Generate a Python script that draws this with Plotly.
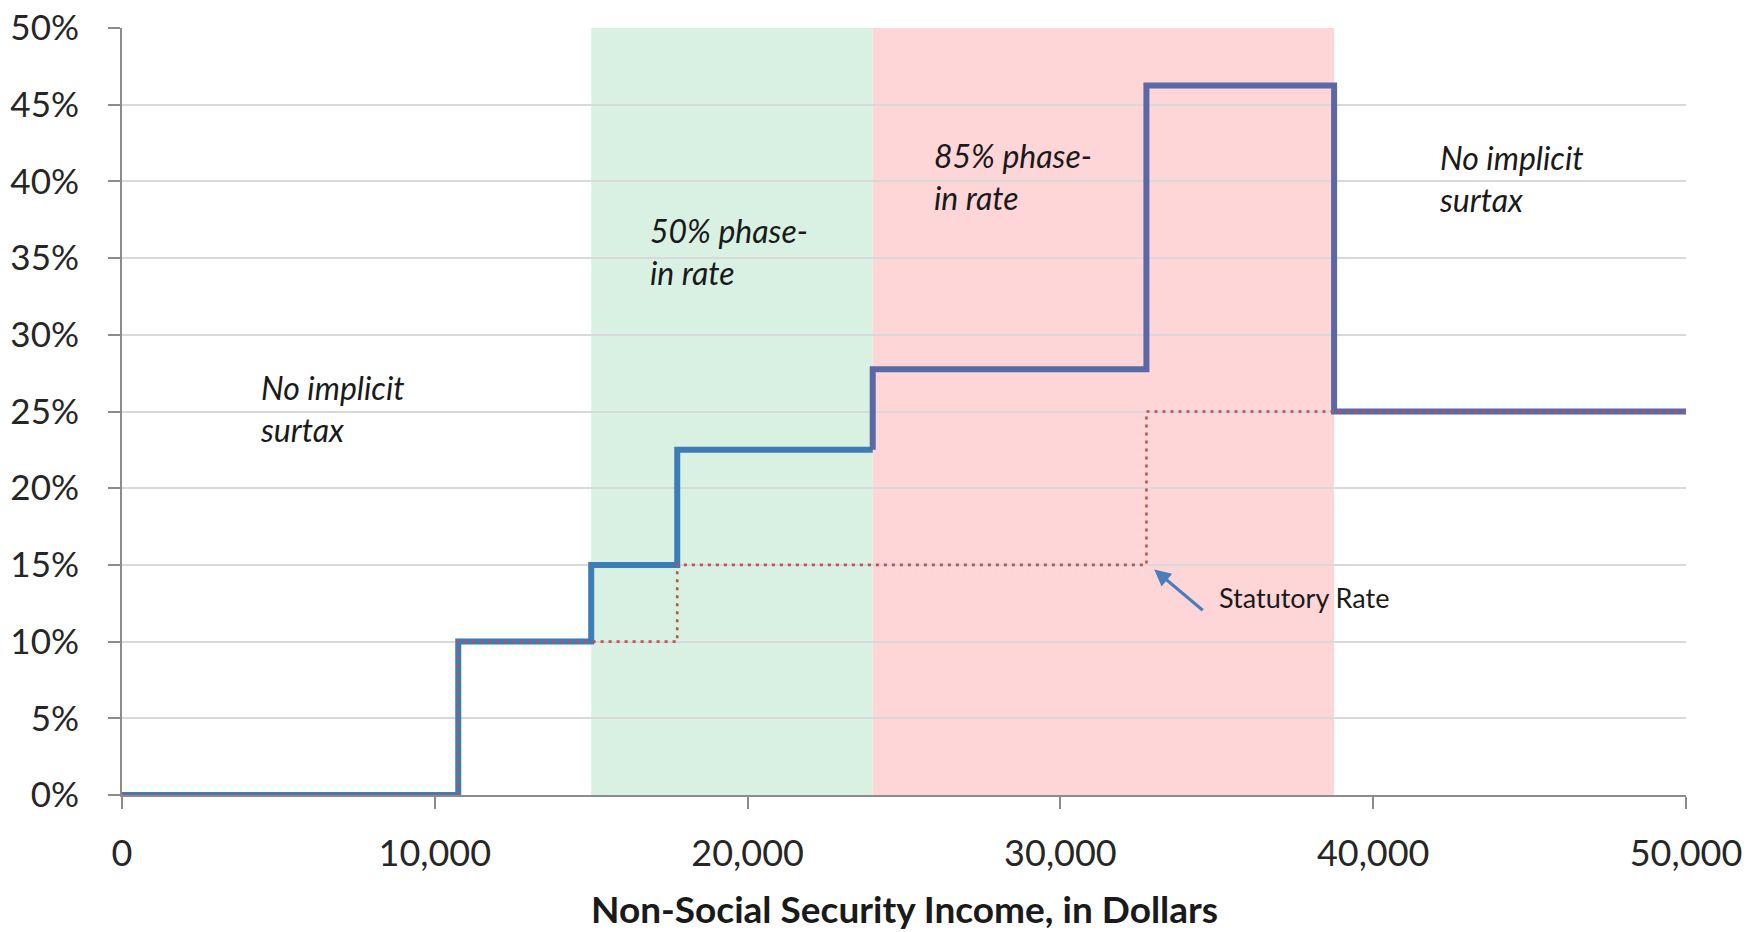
import plotly.graph_objects as go

# Effective marginal tax rate (with implicit surtax) by non-Social Security income
income_breaks = [0, 10750, 15000, 17750, 24000, 32750, 38750, 50000]
effective_rate = [0, 10, 15, 22.5, 27.75, 46.25, 25, 25]

# Statutory rate
statutory_breaks = [0, 10750, 17750, 32750, 50000]
statutory_rate = [0, 10, 15, 25, 25]

# Phase-in regions
phase50_range = [15000, 24000]
phase85_range = [24000, 38750]

x_ticks = [0, 10000, 20000, 30000, 40000, 50000]
y_ticks = [0, 5, 10, 15, 20, 25, 30, 35, 40, 45, 50]

FONT = "Lato"

fig = go.Figure()

# split effective rate line at the start of 85% phase-in region (colour change)
split = phase85_range[0]
ax = [x for x in income_breaks if x < split] + [split]
ay = [y for x, y in zip(income_breaks, effective_rate) if x < split]
ay = ay + [ay[-1]]
bx = [split] + [x for x in income_breaks if x >= split]
by = [ay[-1]] + [y for x, y in zip(income_breaks, effective_rate) if x >= split]

fig.add_trace(go.Scatter(x=ax, y=ay, mode="lines", line=dict(color="#3C7DB6", width=6, shape="hv"),
                         showlegend=False, hoverinfo="skip"))
fig.add_trace(go.Scatter(x=bx, y=by, mode="lines", line=dict(color="#5A69A6", width=6, shape="hv"),
                         showlegend=False, hoverinfo="skip"))
fig.add_trace(go.Scatter(x=statutory_breaks, y=statutory_rate, mode="lines",
                         line=dict(color="#C0504D", width=2.6, dash="3px,5px", shape="hv"),
                         showlegend=False, hoverinfo="skip"))

fig.add_shape(type="rect", xref="x", yref="y", x0=phase50_range[0], x1=phase50_range[1], y0=0, y1=50,
              fillcolor="#D9F1E2", line=dict(width=0), layer="below")
fig.add_shape(type="rect", xref="x", yref="y", x0=phase85_range[0], x1=phase85_range[1], y0=0, y1=50,
              fillcolor="#FFD6D7", line=dict(width=0), layer="below")

ann_font = dict(family=FONT, size=32, color="#1a1a1a")
for x, y, t in [(4350, 25.2, "No implicit<br>surtax"),
                (16800, 35.4, "50% phase-<br>in rate"),
                (25900, 40.3, "85% phase-<br>in rate"),
                (42050, 40.2, "No implicit<br>surtax")]:
    fig.add_annotation(x=x, y=y, xref="x", yref="y", text="<i>" + t + "</i>", showarrow=False,
                       xanchor="left", yanchor="middle", align="left", font=ann_font)

fig.add_annotation(x=33000, y=14.7, xref="x", yref="y", ax=50, ay=42, text="", showarrow=True,
                   arrowhead=2, arrowsize=1.1, arrowwidth=3, arrowcolor="#4A7EBB")
fig.add_annotation(x=35000, y=12.9, xref="x", yref="y", text="Statutory Rate", showarrow=False,
                   xanchor="left", yanchor="middle", font=dict(family=FONT, size=27, color="#1a1a1a"))

fig.add_annotation(x=0.5, y=-0.148, xref="paper", yref="paper", text="<b>Non-Social Security Income, in Dollars</b>",
                   showarrow=False, xanchor="center", yanchor="middle",
                   font=dict(family=FONT, size=37, color="#1a1a1a"))

fig.update_xaxes(range=[0, 50000], tickvals=x_ticks, ticktext=[f"{v:,}" for v in x_ticks],
                 showgrid=False, zeroline=False, showline=True, linecolor="#8C8C8C", linewidth=2,
                 ticks="outside", ticklen=12, tickwidth=2, tickcolor="#8C8C8C", automargin=False,
                 ticklabeloverflow="allow",
                 tickfont=dict(family=FONT, size=36, color="#262626"), ticklabelstandoff=14)
fig.update_yaxes(range=[0, 50], tickvals=y_ticks, ticktext=[f"{v}%" for v in y_ticks],
                 showgrid=True, gridcolor="#D9D9D9", gridwidth=1.5, zeroline=False,
                 showline=True, linecolor="#8C8C8C", linewidth=2, automargin=False,
                 ticklabeloverflow="allow",
                 ticks="outside", ticklen=12, tickwidth=2, tickcolor="#8C8C8C",
                 tickfont=dict(family=FONT, size=35, color="#262626"), ticklabelstandoff=22)

# page body has an 8px margin, so figure is sized to fit the 1760x932 window
fig.update_layout(width=1752, height=924, margin=dict(l=114, r=74, t=20, b=137),
                  plot_bgcolor="white", paper_bgcolor="white", showlegend=False)

fig.write_html("out.html")
